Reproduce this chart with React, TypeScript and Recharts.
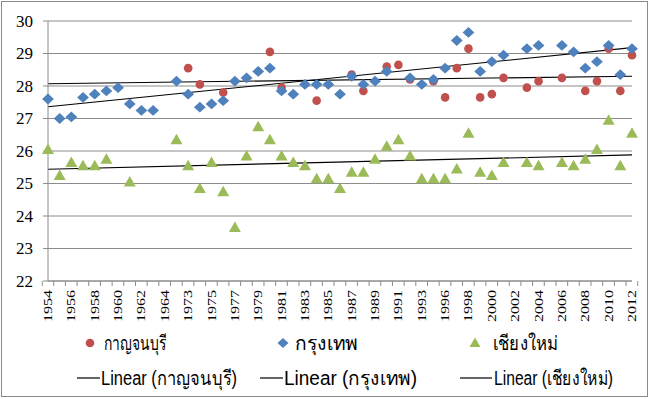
import { ComposedChart, Line, XAxis, YAxis, CartesianGrid } from "recharts";

const years = [
  "1954", "1955", "1956", "1957", "1958", "1959", "1960", "1961", "1962", "1963", "1964",
  "1972",
  "1973", "1974", "1975", "1976", "1977", "1978", "1979", "1980", "1981", "1982", "1983",
  "1984", "1985", "1986", "1987", "1988", "1989", "1990", "1991", "1992", "1993",
  "1995",
  "1996", "1997", "1998", "1999", "2000", "2001", "2002", "2003", "2004", "2005", "2006",
  "2007", "2008", "2009", "2010", "2011", "2012",
];

// กาญจนบุรี
const kanchanaburi = [
  null, null, null, null, null, null, null, null, null, null,
  null, null, 28.55, 28.05, null, 27.8, null, null, null, 29.05,
  27.95, null, null, 27.55, null, null, 28.35, 27.85, null, 28.6,
  28.65, 28.2, null, 28.15, 27.65, 28.55, 29.15, 27.65, 27.75, 28.25,
  null, 27.95, 28.15, null, 28.25, null, 27.85, 28.15, 29.15, 27.85,
  28.95,
];

// กรุงเทพ
const bangkok = [
  27.6, 27.0, 27.05, 27.65, 27.75, 27.85, 27.95, 27.45, 27.25, 27.25,
  null, 28.15, 27.75, 27.35, 27.45, 27.55, 28.15, 28.25, 28.45, 28.55,
  27.85, 27.75, 28.05, 28.05, 28.05, 27.75, 28.3, 28.05, 28.15, 28.45,
  null, 28.25, 28.05, 28.2, 28.55, 29.4, 29.65, 28.45, 28.75, 28.95,
  null, 29.15, 29.25, null, 29.25, 29.05, 28.55, 28.75, 29.25, 28.35,
  29.15,
];

// เชียงใหม่
const chiangMai = [
  26.05, 25.25, 25.65, 25.55, 25.55, 25.75, null, 25.05, null, null,
  null, 26.35, 25.55, 24.85, 25.65, 24.75, 23.65, 25.85, 26.75, 26.35,
  25.85, 25.65, 25.55, 25.15, 25.15, 24.85, 25.35, 25.35, 25.75, 26.15,
  26.35, 25.85, 25.15, 25.15, 25.15, 25.45, 26.55, 25.35, 25.25, 25.65,
  null, 25.65, 25.55, null, 25.65, 25.55, 25.75, 26.05, 26.95, 25.55,
  26.55,
];

// linear trend ends (first, last category)
const trendKan = [28.07, 28.3];
const trendBkk = [27.36, 29.18];
const trendCm = [25.44, 25.88];

const yTicks = [22, 23, 24, 25, 26, 27, 28, 29, 30];

const RED = "#C0504D";
const BLUE = "#4F81BD";
const GREEN = "#9BBB59";
const GRID = "#8c8c8c";
const SERIF = "'Liberation Serif', 'DejaVu Serif', 'Times New Roman', serif";
const SANS = "'Liberation Sans Narrow', 'Liberation Sans', Arial, sans-serif";

const last = years.length - 1;
const data = years.map((year, i) => ({
  year,
  kan: kanchanaburi[i],
  bkk: bangkok[i],
  cm: chiangMai[i],
  kanT: i === 0 ? trendKan[0] : i === last ? trendKan[1] : null,
  bkkT: i === 0 ? trendBkk[0] : i === last ? trendBkk[1] : null,
  cmT: i === 0 ? trendCm[0] : i === last ? trendCm[1] : null,
}));

const PLOT_W = 584;
const STEP = PLOT_W / years.length;

const circleDot = (p: any) => {
  if (p.value == null || p.cy == null) return <g key={p.key} />;
  return <circle key={p.key} cx={p.cx} cy={p.cy} r={4.3} fill={RED} />;
};

const diamondDot = (p: any) => {
  if (p.value == null || p.cy == null) return <g key={p.key} />;
  const { cx, cy } = p;
  return (
    <polygon
      key={p.key}
      points={`${cx},${cy - 5.4} ${cx + 5.9},${cy} ${cx},${cy + 5.4} ${cx - 5.9},${cy}`}
      fill={BLUE}
    />
  );
};

const triangleDot = (p: any) => {
  if (p.value == null || p.cy == null) return <g key={p.key} />;
  const { cx, cy } = p;
  return (
    <polygon
      key={p.key}
      points={`${cx},${cy - 6} ${cx + 6},${cy + 4.5} ${cx - 6},${cy + 4.5}`}
      fill={GREEN}
    />
  );
};

const YTick = ({ x, y, payload }: any) => (
  <text x={x} y={y} dy="0.35em" textAnchor="end" style={{ fontFamily: SERIF, fontSize: 17 }} fill="#000">
    {payload.value}
  </text>
);

const XTick = ({ x, payload, index }: any) => (
  <g>
    <line x1={x + STEP / 2} y1={281} x2={x + STEP / 2} y2={286} stroke={GRID} />
    {index === 0 && <line x1={x - STEP / 2} y1={281} x2={x - STEP / 2} y2={286} stroke={GRID} />}
    {index % 2 === 0 && (
      <text
        transform={`translate(${x + 4},${290}) rotate(-90) scale(1,0.72)`}
        textAnchor="end"
        style={{ fontFamily: SERIF, fontSize: 16 }}
        fill="#000"
      >
        {payload.value}
      </text>
    )}
  </g>
);

const LegendText = ({ x, y, w, children }: any) => (
  <text
    transform={`translate(${x},${y}) scale(1,1.15)`}
    textLength={w}
    lengthAdjust="spacingAndGlyphs"
    dominantBaseline="central"
    style={{ fontFamily: SANS, fontSize: 17 }}
    fill="#000"
  >
    {children}
  </text>
);

function LegendOverlay() {
  const r1 = 343;
  const r2 = 378;
  return (
    <svg width={650} height={399} style={{ position: "absolute", left: 0, top: 0, pointerEvents: "none" }}>
      <circle cx={90} cy={r1} r={4.3} fill={RED} />
      <LegendText x={104} y={r1} w={63}>กาญจนบุรี</LegendText>
      <polygon points={`283,${r1 - 5} 288.5,${r1} 283,${r1 + 5} 277.5,${r1}`} fill={BLUE} />
      <LegendText x={295} y={r1} w={63}>กรุงเทพ</LegendText>
      <polygon points={`475,${r1 - 5.5} 480.5,${r1 + 4} 469.5,${r1 + 4}`} fill={GREEN} />
      <LegendText x={493} y={r1} w={65}>เชียงใหม่</LegendText>

      <line x1={77} y1={r2} x2={100} y2={r2} stroke="#000" strokeWidth={1.2} />
      <LegendText x={101} y={r2} w={136}>Linear (กาญจนบุรี)</LegendText>
      <line x1={260} y1={r2} x2={283} y2={r2} stroke="#000" strokeWidth={1.2} />
      <LegendText x={284} y={r2} w={133}>Linear (กรุงเทพ)</LegendText>
      <line x1={460} y1={r2} x2={492} y2={r2} stroke="#000" strokeWidth={1.2} />
      <LegendText x={494} y={r2} w={119}>Linear (เชียงใหม่)</LegendText>
    </svg>
  );
}

export default function App() {
  return (
    <div style={{ position: "absolute", left: 0, top: 0, width: 650, height: 399, background: "#fff" }}>
      <div
        style={{
          position: "absolute",
          left: 1,
          top: 1,
          width: 645,
          height: 394,
          border: "1px solid #8a8a8a",
          boxSizing: "content-box",
        }}
      />
      <div style={{ position: "absolute", left: 0, top: 0 }}>
        <ComposedChart width={650} height={340} data={data} margin={{ top: 21, right: 18, left: 0, bottom: 0 }}>
          <CartesianGrid vertical={false} stroke={GRID} />
          <XAxis
            dataKey="year"
            height={59}
            interval={0}
            tickLine={false}
            axisLine={{ stroke: GRID }}
            tick={<XTick />}
          />
          <YAxis
            width={48}
            domain={[22, 30]}
            ticks={yTicks}
            interval={0}
            tickSize={5}
            tickMargin={10}
            tickLine={{ stroke: GRID }}
            axisLine={{ stroke: GRID }}
            tick={<YTick />}
          />
          <Line dataKey="kan" stroke="none" dot={circleDot} activeDot={false} isAnimationActive={false} />
          <Line dataKey="bkk" stroke="none" dot={diamondDot} activeDot={false} isAnimationActive={false} />
          <Line dataKey="cm" stroke="none" dot={triangleDot} activeDot={false} isAnimationActive={false} />
          <Line dataKey="kanT" stroke="#000" strokeWidth={1.1} dot={false} connectNulls isAnimationActive={false} />
          <Line dataKey="bkkT" stroke="#000" strokeWidth={1.1} dot={false} connectNulls isAnimationActive={false} />
          <Line dataKey="cmT" stroke="#000" strokeWidth={1.1} dot={false} connectNulls isAnimationActive={false} />
        </ComposedChart>
      </div>
      <LegendOverlay />
    </div>
  );
}
